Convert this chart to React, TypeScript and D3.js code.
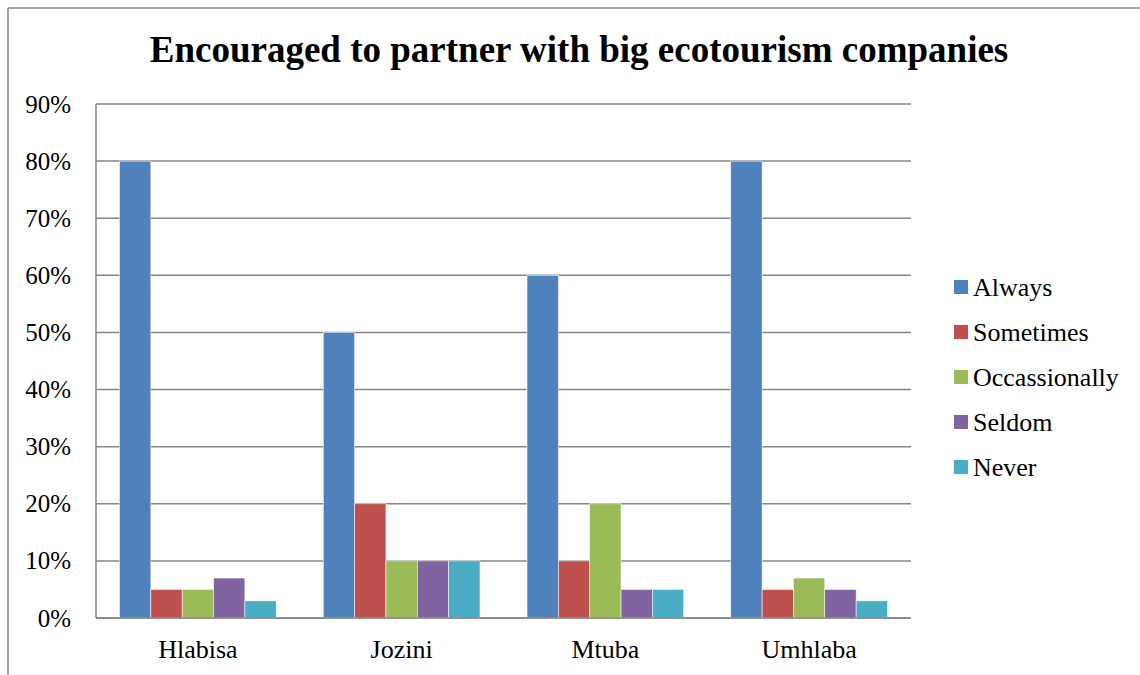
import React from "react";
import * as d3 from "d3";

const categories = ["Hlabisa", "Jozini", "Mtuba", "Umhlaba"];
const seriesNames = ["Always", "Sometimes", "Occassionally", "Seldom", "Never"];
const always = [80, 50, 60, 80];
const sometimes = [5, 20, 10, 5];
const occasionally = [5, 10, 20, 7];
const seldom = [7, 10, 5, 5];
const never = [3, 10, 5, 3];
const yTicks = [0, 10, 20, 30, 40, 50, 60, 70, 80, 90];
const colors = ["#4F81BD", "#C0504D", "#9BBB59", "#8064A2", "#4BACC6"];
const title = "Encouraged to partner with big ecotourism companies";

const seriesValues = [always, sometimes, occasionally, seldom, never];

export default function App() {
  const W = 1140, H = 675;
  const left = 96, right = 911, top = 104, bottom = 618;
  const x0 = d3.scaleBand().domain(categories).range([left, right]).paddingInner(0).paddingOuter(0);
  const y = d3.scaleLinear().domain([0, 90]).range([bottom, top]);
  const catW = x0.bandwidth();
  const barW = catW / (seriesNames.length + 1.5);
  const x1 = d3.scaleBand().domain(seriesNames).range([0, barW * seriesNames.length]);
  const font = "'Liberation Serif', 'Times New Roman', serif";
  const grid = "#868686";

  return (
    <svg width={W} height={H} style={{ position: "absolute", left: 0, top: 0, background: "#fff" }} fontFamily={font}>
      <rect x={0} y={0} width={W} height={H} fill="#fff" />
      <line x1={8} y1={8} x2={W} y2={8} stroke="#888" strokeWidth={1.5} />
      <line x1={8} y1={8} x2={8} y2={H} stroke="#888" strokeWidth={1.5} />
      <text x={579} y={62} textAnchor="middle" fontSize={37} fontWeight="bold" fill="#000">{title}</text>
      {yTicks.map((t) => (
        <g key={t}>
          <line x1={left} x2={right} y1={y(t)} y2={y(t)} stroke={grid} strokeWidth={1.5} />
          <text x={71} y={y(t) + 8.5} textAnchor="end" fontSize={25} fill="#000">{t}%</text>
        </g>
      ))}
      <line x1={left} x2={left} y1={top} y2={bottom} stroke={grid} strokeWidth={1.5} />
      {categories.map((c, ci) => {
        const gx = (x0(c) as number) + (catW - barW * seriesNames.length) / 2;
        return (
          <g key={c}>
            {seriesNames.map((s, si) => {
              const v = seriesValues[si][ci];
              return (
                <rect key={s} x={gx + (x1(s) as number)} y={y(v)} width={barW} height={y(0) - y(v)}
                  fill={colors[si]} stroke="#f4f6fa" strokeWidth={0.6} />
              );
            })}
            <text x={(x0(c) as number) + catW / 2} y={658} textAnchor="middle" fontSize={26} fill="#000">{c}</text>
          </g>
        );
      })}
      <line x1={left} x2={right} y1={bottom} y2={bottom} stroke={grid} strokeWidth={1.5} />
      {seriesNames.map((s, i) => (
        <g key={s}>
          <rect x={954} y={280 + i * 45} width={14} height={14} fill={colors[i]} />
          <text x={973} y={296 + i * 45} fontSize={26} fill="#000">{s}</text>
        </g>
      ))}
    </svg>
  );
}
